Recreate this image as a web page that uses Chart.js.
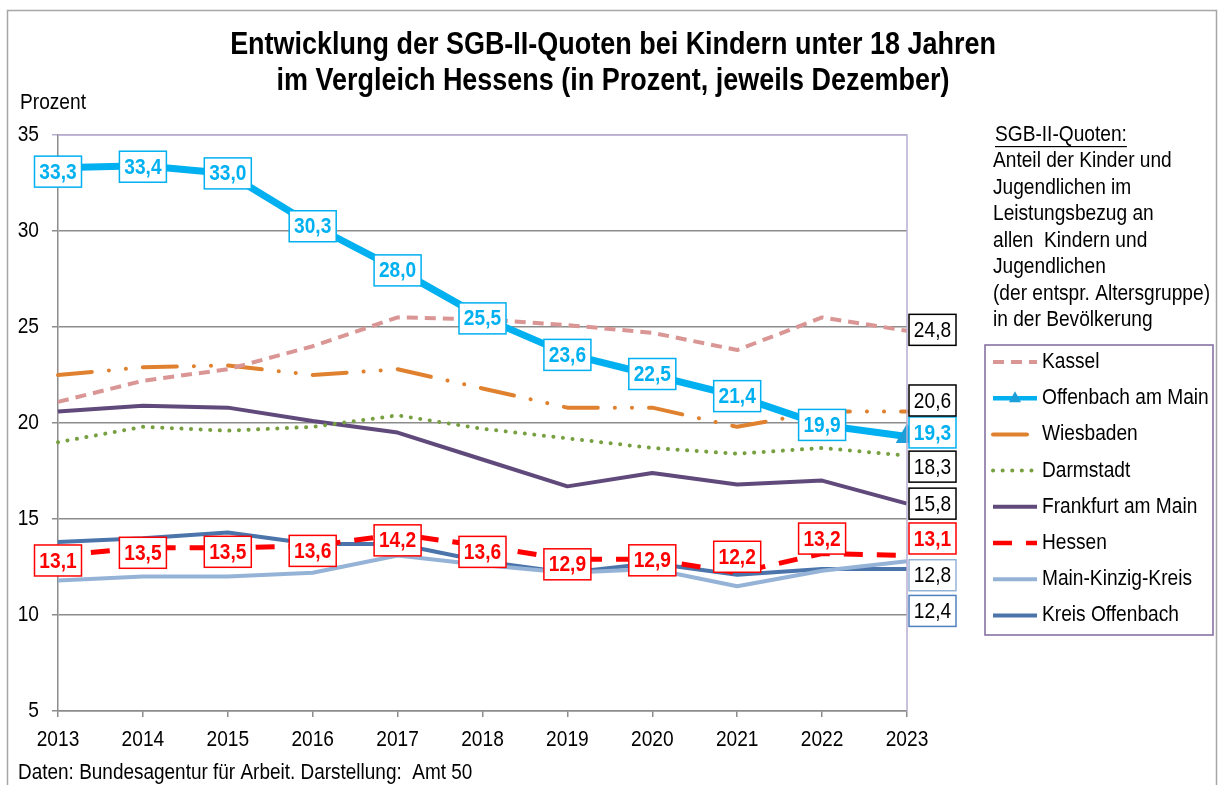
<!DOCTYPE html>
<html>
<head>
<meta charset="utf-8">
<script src="https://cdn.jsdelivr.net/npm/chart.js@4.4.0/dist/chart.umd.min.js"></script>
<style>
body { margin: 0; background: #fff; }
</style>
</head>
<body>
<canvas id="g_sgb" width="1219" height="785"></canvas>
<script>
// Daten (jeweils Dezember)
const jahre = ['2013', '2014', '2015', '2016', '2017', '2018', '2019', '2020', '2021', '2022', '2023'];
const kassel = [21.1, 22.2, 22.8, 24.0, 25.5, 25.4, 25.1, 24.7, 23.8, 25.5, 24.8];
const offenbachMain = [33.3, 33.4, 33.0, 30.3, 28.0, 25.5, 23.6, 22.5, 21.4, 19.9, 19.3];
const wiesbaden = [22.5, 22.9, 23.0, 22.5, 22.8, 21.8, 20.8, 20.8, 19.8, 20.6, 20.6];
const darmstadt = [19.0, 19.8, 19.6, 19.8, 20.4, 19.7, 19.2, 18.7, 18.4, 18.7, 18.3];
const frankfurt = [20.6, 20.9, 20.8, 20.1, 19.5, 18.1, 16.7, 17.4, 16.8, 17.0, 15.8];
const hessen = [13.1, 13.5, 13.5, 13.6, 14.2, 13.6, 12.9, 12.9, 12.2, 13.2, 13.1];
const mainKinzig = [11.8, 12.0, 12.0, 12.2, 13.1, 12.6, 12.2, 12.4, 11.5, 12.3, 12.8];
const kreisOffenbach = [13.8, 14.0, 14.3, 13.7, 13.7, 12.8, 12.2, 12.7, 12.1, 12.4, 12.4];
const yTicks = [5, 10, 15, 20, 25, 30, 35];

const titel = ['Entwicklung der SGB-II-Quoten bei Kindern unter 18 Jahren',
               'im Vergleich Hessens (in Prozent, jeweils Dezember)'];
const hinweis = ['Anteil der Kinder und', 'Jugendlichen im', 'Leistungsbezug an',
                 'allen  Kindern und', 'Jugendlichen', '(der entspr. Altersgruppe)', 'in der Bevölkerung'];
const quelle = 'Daten: Bundesagentur für Arbeit. Darstellung:  Amt 50';

const FONT = '"Liberation Sans", Arial, sans-serif';
const SX = 0.87; // schmale Schrift wie im Original
const fmt = v => v.toFixed(1).replace('.', ',');

function txt(ctx, s, x, y, size, align, bold, color) {
    ctx.save();
    ctx.font = (bold ? 'bold ' : '') + size + 'px ' + FONT;
    ctx.fillStyle = color || '#000';
    ctx.textAlign = align || 'left';
    ctx.textBaseline = 'middle';
    ctx.translate(x, y);
    ctx.scale(SX, 1);
    ctx.fillText(s, 0, 0);
    const w = ctx.measureText(s).width * SX;
    ctx.restore();
    return w;
}

// Wertekästchen an den Linien
const boxLabels = {
    id: 'boxLabels',
    afterDatasetsDraw(chart) {
        const ctx = chart.ctx;
        const xs = chart.scales.x, ys = chart.scales.y;
        chart.data.datasets.forEach(ds => {
            const cfg = ds.boxLabel;
            if (!cfg) return;
            ds.data.forEach((v, j) => {
                const last = j === ds.data.length - 1;
                if (!cfg.all && !last) return;
                const w = 47, h = 31;
                let cx = xs.getPixelForValue(j);
                if (last) cx = chart.chartArea.right + 2 + w / 2;
                const dy = Array.isArray(cfg.dy) ? cfg.dy[j] : (cfg.dy || 0);
                const cy = ys.getPixelForValue(v) + dy;
                ctx.save();
                ctx.fillStyle = '#fff';
                ctx.fillRect(cx - w / 2, cy - h / 2, w, h);
                ctx.strokeStyle = cfg.border;
                ctx.lineWidth = 1.5;
                ctx.strokeRect(cx - w / 2, cy - h / 2, w, h);
                ctx.restore();
                txt(ctx, fmt(v), cx, cy + 1, 22, 'center', cfg.bold, cfg.color);
            });
        });
    }
};

// Achsenbeschriftung, Rahmen, Titel, Erläuterung, Legende
const deko = {
    id: 'deko',
    afterDraw(chart) {
        const ctx = chart.ctx;
        const a = chart.chartArea;
        const xs = chart.scales.x, ys = chart.scales.y;
        ctx.save();
        // Rahmen Diagrammfläche oben/rechts
        ctx.strokeStyle = '#B9AFD2';
        ctx.lineWidth = 1.5;
        ctx.beginPath();
        ctx.moveTo(a.left, a.top);
        ctx.lineTo(a.right, a.top);
        ctx.lineTo(a.right, a.bottom);
        ctx.stroke();
        // äußerer Rahmen
        ctx.strokeStyle = '#A6A6A6';
        ctx.strokeRect(7.5, 10.5, 1209, 800);
        ctx.restore();

        // Achsenbeschriftung
        xs.ticks.forEach((t, i) => txt(ctx, jahre[i], xs.getPixelForTick(i), 740, 22, 'center'));
        yTicks.forEach(v => txt(ctx, String(v), 39, ys.getPixelForValue(v), 22, 'right'));

        txt(ctx, titel[0], 613, 45, 31, 'center', true);
        txt(ctx, titel[1], 613, 81, 31, 'center', true);
        txt(ctx, 'Prozent', 20, 103, 22);
        txt(ctx, quelle, 18, 773, 21.8);

        // Erläuterung rechts
        const uw = txt(ctx, 'SGB-II-Quoten:', 995, 135, 22);
        ctx.fillStyle = '#000';
        ctx.fillRect(995, 146, uw, 1.2);
        hinweis.forEach((t, i) => txt(ctx, t, 993, 161 + i * 26.5, 22));

        // Legende
        ctx.save();
        ctx.strokeStyle = '#7F6A9F';
        ctx.lineWidth = 1.5;
        ctx.strokeRect(985, 345, 228, 290);
        chart.data.datasets.forEach((ds, i) => {
            const y = 362 + i * 36.2;
            ctx.save();
            ctx.strokeStyle = ds.borderColor;
            ctx.lineWidth = Math.min(ds.borderWidth, 4.5);
            ctx.lineCap = ds.borderCapStyle || 'butt';
            ctx.setLineDash(ds.borderDash || []);
            ctx.beginPath();
            ctx.moveTo(993, y);
            ctx.lineTo(1037, y);
            ctx.stroke();
            if (ds.pointStyle === 'triangle') {
                ctx.setLineDash([]);
                ctx.fillStyle = ds.pointBackgroundColor;
                ctx.beginPath();
                ctx.moveTo(1015, y - 7);
                ctx.lineTo(1021, y + 4);
                ctx.lineTo(1009, y + 4);
                ctx.closePath();
                ctx.fill();
            }
            ctx.restore();
            txt(ctx, ds.label, 1042, y, 22);
        });
        ctx.restore();
    }
};

const ctx_sgb = document.getElementById('g_sgb').getContext('2d');
const g_sgb = new Chart(ctx_sgb, {
    type: 'line',
    data: {
        labels: jahre,
        datasets: [{
            label: 'Kassel',
            data: kassel,
            borderColor: '#D99694',
            borderWidth: 4,
            borderDash: [11, 7],
            boxLabel: { color: '#000', border: '#000', dy: -1 }
        }, {
            label: 'Offenbach am Main',
            data: offenbachMain,
            borderColor: '#00B0F0',
            borderWidth: 7,
            pointStyle: 'triangle',
            pointRadius: 6,
            pointBackgroundColor: '#1C9FD8',
            pointBorderColor: '#1C9FD8',
            boxLabel: { all: true, bold: true, color: '#00B0F0', border: '#00B0F0',
                        dy: [4, 1, 0, 1, 1, 1, 1, -1, 0, 0, -4] }
        }, {
            label: 'Wiesbaden',
            data: wiesbaden,
            borderColor: '#E0812F',
            borderWidth: 4,
            borderCapStyle: 'round',
            borderDash: [34, 17, 0.1, 17, 0.1, 17],
            boxLabel: { color: '#000', border: '#000', dy: -11 }
        }, {
            label: 'Darmstadt',
            data: darmstadt,
            borderColor: '#77A040',
            borderWidth: 4,
            borderCapStyle: 'round',
            borderDash: [0.1, 9.5],
            boxLabel: { color: '#000', border: '#000', dy: 11 }
        }, {
            label: 'Frankfurt am Main',
            data: frankfurt,
            borderColor: '#604A7B',
            borderWidth: 4,
            boxLabel: { color: '#000', border: '#000', dy: 0 }
        }, {
            label: 'Hessen',
            data: hessen,
            borderColor: '#FF0000',
            borderWidth: 5,
            borderDash: [19, 14],
            boxLabel: { all: true, bold: true, color: '#FF0000', border: '#FF0000',
                        dy: [5, 5, 4, 5, 6, 6, 5, 1, -16, -15, -17] }
        }, {
            label: 'Main-Kinzig-Kreis',
            data: mainKinzig,
            borderColor: '#95B3D7',
            borderWidth: 4,
            boxLabel: { color: '#000', border: '#95B3D7', dy: 14 }
        }, {
            label: 'Kreis Offenbach',
            data: kreisOffenbach,
            borderColor: '#4A74AA',
            borderWidth: 4,
            boxLabel: { color: '#000', border: '#4F81BD', dy: 42 }
        }].map(ds => Object.assign({ pointRadius: 0, fill: false, tension: 0, clip: false, borderJoinStyle: 'round' }, ds))
    },
    options: {
        responsive: false,
        animation: false,
        devicePixelRatio: 1,
        layout: { padding: { left: 0, top: 135, right: 312, bottom: 34 } },
        plugins: {
            legend: { display: false },
            tooltip: { enabled: false }
        },
        scales: {
            x: {
                offset: false,
                afterFit: s => { s.height = 40; },
                grid: { drawOnChartArea: false, drawTicks: true, tickLength: 6, color: '#8C8C8C', lineWidth: 1.5 },
                border: { color: '#8C8C8C', width: 1.5 },
                ticks: { color: 'rgba(0,0,0,0)', padding: 10, maxRotation: 0, autoSkip: false, font: { family: FONT, size: 19 } }
            },
            y: {
                min: yTicks[0],
                max: yTicks[yTicks.length - 1],
                afterFit: s => { s.width = 58; },
                afterBuildTicks: s => { s.ticks = yTicks.map(v => ({ value: v })); },
                grid: {
                    color: c => (c.tick && c.tick.value === 35) ? '#B9AFD2' : '#8C8C8C',
                    lineWidth: 1.5, tickLength: 6
                },
                border: { color: '#8C8C8C', width: 1.5 },
                ticks: { color: 'rgba(0,0,0,0)', padding: 12, font: { family: FONT, size: 19 } }
            }
        }
    },
    plugins: [boxLabels, deko]
});
</script>
</body>
</html>
